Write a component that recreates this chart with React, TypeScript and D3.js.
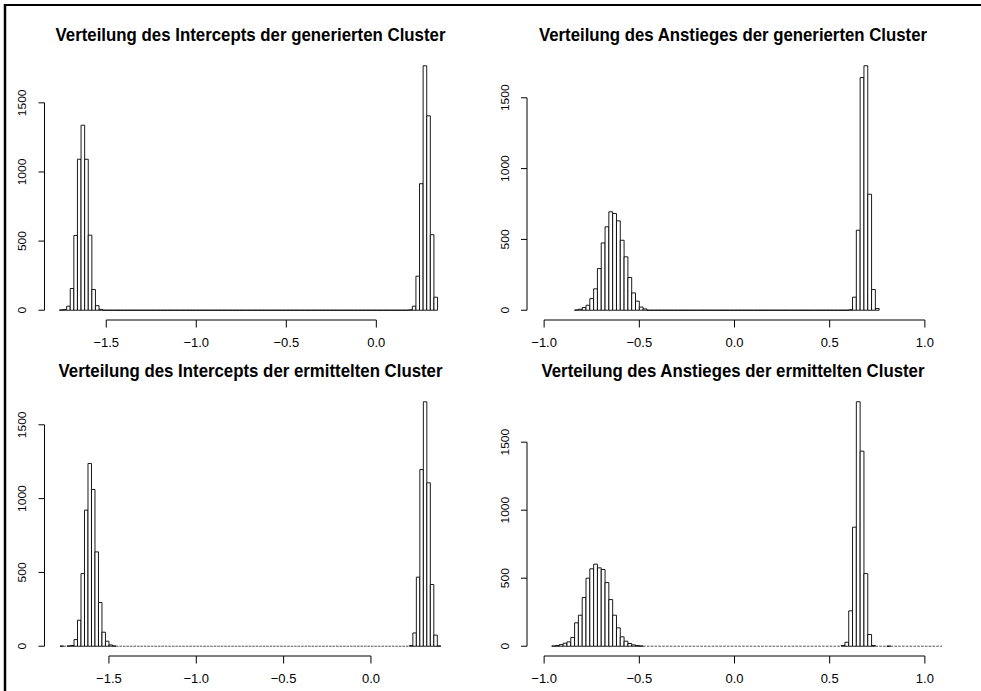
import React from "react";
import * as d3 from "d3";

// ---------- data ----------
const BIN_WIDTH = 0.02;

const titles = [
  "Verteilung des Intercepts der generierten Cluster",
  "Verteilung des Anstieges der generierten Cluster",
  "Verteilung des Intercepts der ermittelten Cluster",
  "Verteilung des Anstieges der ermittelten Cluster",
];

// Panel 1: intercept, generated
const p1Breaks = [-1.76, 0.34];
const p1LeftStart = -1.76;
const p1LeftCounts = [2, 5, 29, 157, 541, 1092, 1338, 1092, 543, 150, 33, 6];
const p1RightStart = 0.18;
const p1RightCounts = [3, 29, 246, 915, 1768, 1406, 546, 94];

// Panel 2: slope, generated
const p2Breaks = [-0.84, 0.76];
const p2LeftStart = -0.84;
const p2LeftCounts = [2, 7, 19, 35, 82, 151, 294, 475, 589, 695, 683, 631, 494, 377, 231, 122, 64, 22, 9];
const p2RightStart = 0.6;
const p2RightCounts = [3, 92, 565, 1643, 1726, 819, 146, 12];

// Panel 3: intercept, estimated
const p3Breaks = [-1.78, 0.4];
const p3LeftStart = -1.78;
const p3LeftCounts = [1, 0, 2, 5, 45, 176, 492, 922, 1238, 1062, 639, 296, 95, 34, 9, 2];
const p3RightStart = 0.22;
const p3RightCounts = [4, 90, 468, 1197, 1656, 1107, 418, 75, 2];

// Panel 4: slope, estimated
const p4Breaks = [-0.96, 1.1];
const p4LeftStart = -0.96;
const p4LeftCounts = [2, 5, 12, 22, 32, 64, 172, 228, 358, 500, 569, 603, 576, 564, 468, 343, 228, 135, 69, 37, 20, 10, 5, 2];
const p4RightStart = 0.56;
const p4RightCounts = [5, 29, 260, 875, 1797, 1434, 534, 86, 5];
const p4ExtraStart = 0.8;
const p4ExtraCounts = [1];

const interceptTicks = [-1.5, -1.0, -0.5, 0.0];
const slopeTicks = [-1.0, -0.5, 0.0, 0.5, 1.0];
const yTicks = [0, 500, 1000, 1500];

// ---------- layout ----------
const W = 981;
const H = 691;
const COLS = [44.5, 527];
const ROWS = [56, 392];
const PW = 415;
const PH = 264;
const FONT = "'Liberation Sans', Arial, Helvetica, sans-serif";

type Cluster = { start: number; counts: number[] };
type PanelDef = {
  title: string;
  breaks: number[];
  clusters: Cluster[];
  xDomain: [number, number];
  xTicks: number[];
  col: number;
  row: number;
  titleLen: number;
  dottedZero: boolean;
};

const panels: PanelDef[] = [
  {
    title: titles[0],
    breaks: p1Breaks,
    clusters: [
      { start: p1LeftStart, counts: p1LeftCounts },
      { start: p1RightStart, counts: p1RightCounts },
    ],
    xDomain: [-1.843, 0.462],
    xTicks: interceptTicks,
    col: 0,
    row: 0,
    titleLen: 390,
    dottedZero: false,
  },
  {
    title: titles[1],
    breaks: p2Breaks,
    clusters: [
      { start: p2LeftStart, counts: p2LeftCounts },
      { start: p2RightStart, counts: p2RightCounts },
    ],
    xDomain: [-1.09, 1.09],
    xTicks: slopeTicks,
    col: 1,
    row: 0,
    titleLen: 388,
    dottedZero: false,
  },
  {
    title: titles[2],
    breaks: p3Breaks,
    clusters: [
      { start: p3LeftStart, counts: p3LeftCounts },
      { start: p3RightStart, counts: p3RightCounts },
    ],
    xDomain: [-1.869, 0.507],
    xTicks: interceptTicks,
    col: 0,
    row: 1,
    titleLen: 384,
    dottedZero: true,
  },
  {
    title: titles[3],
    breaks: p4Breaks,
    clusters: [
      { start: p4LeftStart, counts: p4LeftCounts },
      { start: p4RightStart, counts: p4RightCounts },
      { start: p4ExtraStart, counts: p4ExtraCounts },
    ],
    xDomain: [-1.09, 1.09],
    xTicks: slopeTicks,
    col: 1,
    row: 1,
    titleLen: 383,
    dottedZero: true,
  },
];

function fmt(v: number): string {
  const s = Math.abs(v).toFixed(1);
  return v < 0 ? "\u2212" + s : s;
}

function buildBins(p: PanelDef) {
  const n = Math.round((p.breaks[1] - p.breaks[0]) / BIN_WIDTH);
  const bins: { lo: number; hi: number; count: number }[] = [];
  for (let i = 0; i < n; i++) {
    const lo = p.breaks[0] + i * BIN_WIDTH;
    const hi = lo + BIN_WIDTH;
    let count = 0;
    for (const c of p.clusters) {
      const k = Math.round((lo - c.start) / BIN_WIDTH);
      if (k >= 0 && k < c.counts.length) count = c.counts[k];
    }
    bins.push({ lo, hi, count });
  }
  return bins;
}

function Panel({ p, idx }: { p: PanelDef; idx: number }) {
  const left = COLS[p.col];
  const top = ROWS[p.row];
  const bottom = top + PH;
  const right = left + PW;
  const bins = buildBins(p);
  const maxCount = d3.max(bins, (b) => b.count) || 1;
  const x = d3.scaleLinear().domain(p.xDomain).range([left, right]);
  const y = d3
    .scaleLinear()
    .domain([-0.04 * maxCount, 1.04 * maxCount])
    .range([bottom, top]);
  const clipId = `clip-${idx}`;
  const y0 = y(0);
  const cx = (left + right) / 2 - 1.5;
  return (
    <g>
      <defs>
        <clipPath id={clipId}>
          <rect x={left} y={top} width={PW} height={PH} />
        </clipPath>
      </defs>
      <text
        x={cx}
        y={top - 14.8}
        textAnchor="middle"
        fontFamily={FONT}
        fontWeight="bold"
        fontSize={19}
        textLength={p.titleLen}
        lengthAdjust="spacingAndGlyphs"
        fill="#000"
      >
        {p.title}
      </text>
      <g clipPath={`url(#${clipId})`}>
        {bins.map((b, i) =>
          b.count === 0 && p.dottedZero ? (
            <line
              key={i}
              x1={x(b.lo)}
              x2={x(b.hi)}
              y1={y0}
              y2={y0}
              stroke="#555"
              strokeWidth={1}
              strokeDasharray="2.6,1.2"
            />
          ) : (
            <path
              key={i}
              d={`M${x(b.lo)},${y0}V${y(b.count)}H${x(b.hi)}V${y0}Z`}
              fill="#fff"
              stroke="#000"
              strokeWidth={0.9}
            />
          )
        )}
      </g>
      {/* x axis */}
      <line
        x1={x(p.xTicks[0])}
        x2={x(p.xTicks[p.xTicks.length - 1])}
        y1={bottom}
        y2={bottom}
        stroke="#000"
        strokeWidth={1}
      />
      {p.xTicks.map((t) => (
        <g key={t}>
          <line x1={x(t)} x2={x(t)} y1={bottom} y2={bottom + 7.5} stroke="#000" strokeWidth={1} />
          <text
            x={x(t)}
            y={bottom + 27}
            textAnchor="middle"
            fontFamily={FONT}
            fontSize={13}
            fill="#000"
          >
            {fmt(t)}
          </text>
        </g>
      ))}
      {/* y axis */}
      <line
        x1={left}
        x2={left}
        y1={y(yTicks[0])}
        y2={y(yTicks[yTicks.length - 1])}
        stroke="#000"
        strokeWidth={1}
      />
      {yTicks.map((t) => (
        <g key={t}>
          <line x1={left - 6} x2={left} y1={y(t)} y2={y(t)} stroke="#000" strokeWidth={1} />
          <text
            transform={`translate(${left - 18.5},${y(t)}) scale(0.9,1) rotate(-90)`}
            textAnchor="middle"
            fontFamily={FONT}
            fontSize={12}
            fill="#000"
          >
            {t}
          </text>
        </g>
      ))}
    </g>
  );
}

export default function App() {
  return (
    <svg
      width={W}
      height={H}
      viewBox={`0 0 ${W} ${H}`}
      style={{ position: "absolute", left: 0, top: 0, display: "block", background: "#fff" }}
    >
      <rect x={0} y={0} width={W} height={H} fill="#fff" />
      <line x1={4} x2={W} y1={5} y2={5} stroke="#000" strokeWidth={2.2} />
      <line x1={5} x2={5} y1={4} y2={H} stroke="#000" strokeWidth={2.5} />
      {panels.map((p, i) => (
        <Panel key={i} p={p} idx={i} />
      ))}
    </svg>
  );
}
